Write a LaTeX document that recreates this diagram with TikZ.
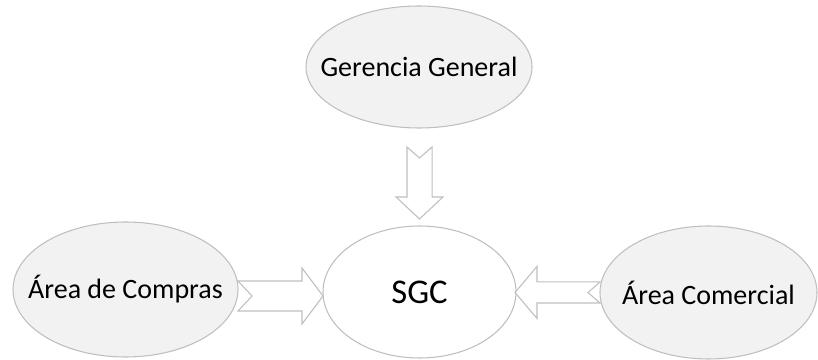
\documentclass[tikz,border=0pt]{standalone}
\usepackage{fontspec}
\setmainfont{Carlito}
\usetikzlibrary{shapes.geometric,calc}

\definecolor{relleno}{HTML}{F2F2F2}
\definecolor{borde}{HTML}{BFBFBF}

\tikzset{
  elipse/.style={ellipse, draw=borde, line width=0.8pt, fill=relleno,
    inner sep=0pt, label={[font=\fontsize{21}{24}\selectfont]center:#1}},
  flecha/.style={draw=borde, line width=0.8pt, fill=white, line join=miter}
}

% flecha ancha con cola en muesca:
% #1 cola, #2 punta, #3 medio ancho cuerpo, #4 medio ancho cabeza,
% #5 largo cabeza, #6 muesca
\newcommand{\flechaancha}[6]{%
  \coordinate (hb) at ($(#2)!#5!(#1)$);
  \draw[flecha] ($(#1)!#3!90:(#2)$) -- ($(hb)!#3!90:(#2)$)
    -- ($(hb)!#4!90:(#2)$) -- (#2) -- ($(hb)!#4!-90:(#2)$)
    -- ($(hb)!#3!-90:(#2)$) -- ($(#1)!#3!-90:(#2)$)
    -- ($(#1)!#6!(#2)$) -- cycle;
}

\begin{document}
\begin{tikzpicture}[x=0.75pt,y=0.75pt]

\useasboundingbox (0,0) rectangle (818,360);

% Elipses
\node[elipse={Gerencia General}, minimum width=169.5pt, minimum height=91.5pt] (gerencia) at (419,293) {};
\node[ellipse, draw=borde, line width=0.8pt, fill=white, inner sep=0pt,
  minimum width=144.75pt, minimum height=99pt,
  label={[font=\fontsize{26}{30}\selectfont]center:SGC}] (sgc) at (419.5,68) {};
\node[elipse={Área de Compras}, minimum width=168.75pt, minimum height=101.25pt] (compras) at (125.5,70.5) {};
\node[elipse={Área Comercial}, minimum width=162.75pt, minimum height=99.75pt] (comercial) at (708.5,67.5) {};

% Extremos de las flechas
\coordinate (g1) at (419.5,213);
\coordinate (g2) at (419.5,141);
\coordinate (c1) at (238,64);
\coordinate (c2) at (323,64);
\coordinate (m1) at (600,67.5);
\coordinate (m2) at (515,67.5);

% Flechas
\flechaancha{g1}{g2}{9.4pt}{17.6pt}{16.5pt}{8.25pt}
\flechaancha{c1}{c2}{11.25pt}{21pt}{15.75pt}{10.5pt}
\flechaancha{m1}{m2}{7.9pt}{19.5pt}{16.5pt}{9pt}

\end{tikzpicture}
\end{document}
